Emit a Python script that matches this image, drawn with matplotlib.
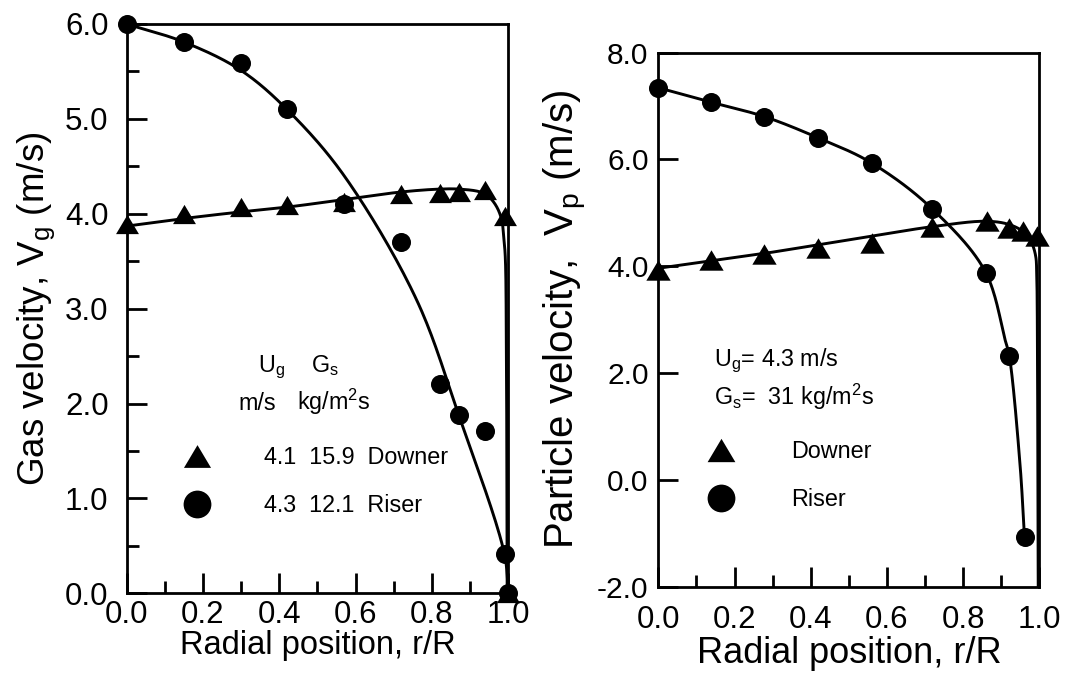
import numpy as np
import matplotlib
matplotlib.use("Agg")
import matplotlib.pyplot as plt
from matplotlib.ticker import MultipleLocator, FormatStrFormatter
from matplotlib.lines import Line2D

plt.rcParams['font.family'] = ['Liberation Sans', 'DejaVu Sans']
plt.rcParams['mathtext.fontset'] = 'custom'
plt.rcParams['mathtext.rm'] = 'Liberation Sans'
plt.rcParams['mathtext.it'] = 'Liberation Sans'

# ---------------- data: left panel (gas velocity) ----------------
gas_riser_r = [0.0, 0.15, 0.30, 0.42, 0.57, 0.72, 0.82, 0.87, 0.94, 0.99, 1.0]
gas_riser_v = [6.00, 5.81, 5.59, 5.10, 4.10, 3.70, 2.21, 1.88, 1.71, 0.41, 0.0]
gas_downer_r = [0.0, 0.15, 0.30, 0.42, 0.57, 0.72, 0.82, 0.87, 0.94, 0.99, 1.0]
gas_downer_v = [3.89, 4.00, 4.07, 4.09, 4.12, 4.21, 4.22, 4.23, 4.25, 3.98, 0.0]
# fitted curves
gas_riser_fit_r = [0.0, 0.15, 0.30, 0.42, 0.57, 0.76, 0.87, 0.99, 1.0]
gas_riser_fit_v = [6.00, 5.81, 5.51, 5.10, 4.40, 3.09, 1.88, 0.41, 0.0]
gas_downer_fit_r = [0.0, 0.15, 0.30, 0.42, 0.57, 0.72, 0.82, 0.87, 0.926, 0.949, 0.970,
                    0.983, 0.988, 0.992, 0.995, 0.997]
gas_downer_fit_v = [3.87, 3.95, 4.02, 4.07, 4.15, 4.23, 4.26, 4.26, 4.23, 4.18, 4.07,
                    3.93, 3.75, 3.55, 2.5, 0.0]

# ---------------- data: right panel (particle velocity) ----------------
par_riser_r = [0.0, 0.138, 0.278, 0.42, 0.56, 0.719, 0.86, 0.921, 0.961]
par_riser_v = [7.34, 7.07, 6.80, 6.40, 5.93, 5.07, 3.87, 2.32, -1.07]
par_downer_r = [0.0, 0.138, 0.278, 0.42, 0.56, 0.719, 0.862, 0.920, 0.958, 0.995]
par_downer_v = [3.92, 4.12, 4.23, 4.33, 4.44, 4.73, 4.84, 4.71, 4.65, 4.56]
par_riser_fit_r = [0.0, 0.138, 0.278, 0.42, 0.56, 0.719, 0.86, 0.91, 0.921, 0.949, 0.961]
par_riser_fit_v = [7.34, 7.07, 6.80, 6.40, 5.93, 5.07, 3.87, 2.62, 2.32, 0.31, -1.07]
par_downer_fit_r = [0.0, 0.14, 0.28, 0.42, 0.56, 0.72, 0.86, 0.92, 0.958, 0.98, 0.9905,
                    0.993, 0.995, 0.996, 0.997]
par_downer_fit_v = [3.96, 4.10, 4.24, 4.40, 4.56, 4.74, 4.84, 4.78, 4.64, 4.43, 4.18,
                    3.87, 2.5, 0.0, -2.0]

left_legend_labels = ['4.1  15.9  Downer', '4.3  12.1  Riser']
right_legend_labels = ['Downer', 'Riser']


def smooth(xs, ys, xr, yr, n=30):
    """Centripetal Catmull-Rom through knots (normalised by axis ranges)."""
    x = np.asarray(xs, float) / xr
    y = np.asarray(ys, float) / yr
    P = np.column_stack([x, y])
    P = np.vstack([2 * P[0] - P[1], P, 2 * P[-1] - P[-2]])
    out = []
    for i in range(1, len(P) - 2):
        p0, p1, p2, p3 = P[i - 1], P[i], P[i + 1], P[i + 2]
        t0 = 0.0
        t1 = t0 + np.linalg.norm(p1 - p0) ** 0.5 + 1e-9
        t2 = t1 + np.linalg.norm(p2 - p1) ** 0.5 + 1e-9
        t3 = t2 + np.linalg.norm(p3 - p2) ** 0.5 + 1e-9
        t = np.linspace(t1, t2, n)[:, None]
        A1 = (t1 - t) / (t1 - t0) * p0 + (t - t0) / (t1 - t0) * p1
        A2 = (t2 - t) / (t2 - t1) * p1 + (t - t1) / (t2 - t1) * p2
        A3 = (t3 - t) / (t3 - t2) * p2 + (t - t2) / (t3 - t2) * p3
        B1 = (t2 - t) / (t2 - t0) * A1 + (t - t0) / (t2 - t0) * A2
        B2 = (t3 - t) / (t3 - t1) * A2 + (t - t1) / (t3 - t1) * A3
        C = (t2 - t) / (t2 - t1) * B1 + (t - t1) / (t2 - t1) * B2
        out.append(C)
    C = np.vstack(out)
    return C[:, 0] * xr, C[:, 1] * yr


tri = [(0, 0.84), (-1, -0.84), (1, -0.84)]

fig = plt.figure(figsize=(10.67, 6.74), dpi=100)
ax1 = fig.add_axes([0.1187, 0.1197, 0.3577, 0.8447])
ax2 = fig.add_axes([0.6170, 0.1298, 0.3571, 0.7923])

LW_CURVE = 2.1
MS_C = 13.7
MS_T = 16.5


def style(ax, ymaj, yminor, ypad, xpad):
    for s in ax.spines.values():
        s.set_linewidth(2.0)
    ax.set_xlim(0, 1.0)
    ax.xaxis.set_major_locator(MultipleLocator(0.2))
    ax.xaxis.set_minor_locator(MultipleLocator(0.1))
    ax.yaxis.set_major_locator(MultipleLocator(ymaj))
    if yminor:
        ax.yaxis.set_minor_locator(MultipleLocator(yminor))
    ax.xaxis.set_major_formatter(FormatStrFormatter('%.1f'))
    ax.yaxis.set_major_formatter(FormatStrFormatter('%.1f'))
    ax.tick_params(which='both', direction='in', top=False, right=False, width=2.0)
    ax.tick_params(which='major', length=14.5)
    ax.tick_params(which='minor', length=8.5)
    ax.tick_params(axis='y', pad=ypad)
    ax.tick_params(axis='x', pad=xpad)


# ---- left panel ----
x, y = smooth(gas_riser_fit_r, gas_riser_fit_v, 1.0, 6.0)
ax1.plot(x, y, color='black', lw=LW_CURVE, clip_on=False, zorder=2)
x, y = smooth(gas_downer_fit_r, gas_downer_fit_v, 1.0, 6.0)
ax1.plot(x, y, color='black', lw=LW_CURVE, clip_on=True, zorder=2)
ax1.plot(gas_riser_r, gas_riser_v, 'o', color='black', ms=MS_C, mew=0, clip_on=False, zorder=3)
ax1.plot(gas_downer_r, gas_downer_v, marker=tri, ls='none', color='black', ms=MS_T, mew=0,
         clip_on=False, zorder=4)
ax1.set_ylim(0, 6.0)
style(ax1, 1.0, 0.5, 13, 5)
ax1.tick_params(labelsize=22.5)
ax1.set_xlabel('Radial position, r/R', fontsize=23.5, labelpad=0)
ax1.set_ylabel(r'Gas velocity, V$_\mathregular{g}$ (m/s)', fontsize=26.5, labelpad=6)

fs_leg = 16.8
ax1.text(0.345, 2.336, r'U$_\mathregular{g}$', fontsize=fs_leg)
ax1.text(0.482, 2.336, r'G$_\mathregular{s}$', fontsize=fs_leg)
ax1.text(0.292, 1.932, 'm/s', fontsize=fs_leg)
ax1.text(0.4455, 1.932, r'kg/m$^\mathregular{2}$s', fontsize=fs_leg)
h1 = [Line2D([], [], marker=tri, ls='none', color='black', ms=19.5, mew=0),
      Line2D([], [], marker='o', ls='none', color='black', ms=20, mew=0)]
ax1.legend(h1, left_legend_labels, loc='center left', bbox_to_anchor=(0.147, 0.1965),
           frameon=False, fontsize=fs_leg, handlelength=1.2, handletextpad=2.3,
           labelspacing=1.05, borderpad=0, borderaxespad=0)

# ---- right panel ----
x, y = smooth(par_riser_fit_r, par_riser_fit_v, 1.0, 10.0)
ax2.plot(x, y, color='black', lw=LW_CURVE, zorder=2)
x, y = smooth(par_downer_fit_r, par_downer_fit_v, 1.0, 10.0)
ax2.plot(x, y, color='black', lw=LW_CURVE, zorder=2)
ax2.plot(par_riser_r, par_riser_v, 'o', color='black', ms=MS_C, mew=0, clip_on=False, zorder=3)
ax2.plot(par_downer_r, par_downer_v, marker=tri, ls='none', color='black', ms=17.5, mew=0,
         clip_on=False, zorder=4)
ax2.set_ylim(-2.0, 8.0)
style(ax2, 2.0, None, 7, 13)
ax2.tick_params(axis='y', labelsize=21.5)
ax2.tick_params(axis='x', labelsize=22.5)
ax2.set_xlabel('Radial position, r/R', fontsize=26, labelpad=1)
ax2.set_ylabel(r'Particle velocity,  V$_\mathregular{p}$ (m/s)', fontsize=29, labelpad=6)

ax2.text(0.147, 2.12, r'U$_\mathregular{g}$= 4.3 m/s', fontsize=fs_leg)
ax2.text(0.147, 1.40, r'G$_\mathregular{s}$=  31 kg/m$^\mathregular{2}$s', fontsize=fs_leg)
h2 = [Line2D([], [], marker=tri, ls='none', color='black', ms=20, mew=0),
      Line2D([], [], marker='o', ls='none', color='black', ms=20, mew=0)]
ax2.legend(h2, right_legend_labels, loc='center left', bbox_to_anchor=(0.128, 0.208),
           frameon=False, fontsize=fs_leg, handlelength=1.2, handletextpad=2.4,
           labelspacing=1.05, borderpad=0, borderaxespad=0)

fig.savefig('out.png', dpi=100)
